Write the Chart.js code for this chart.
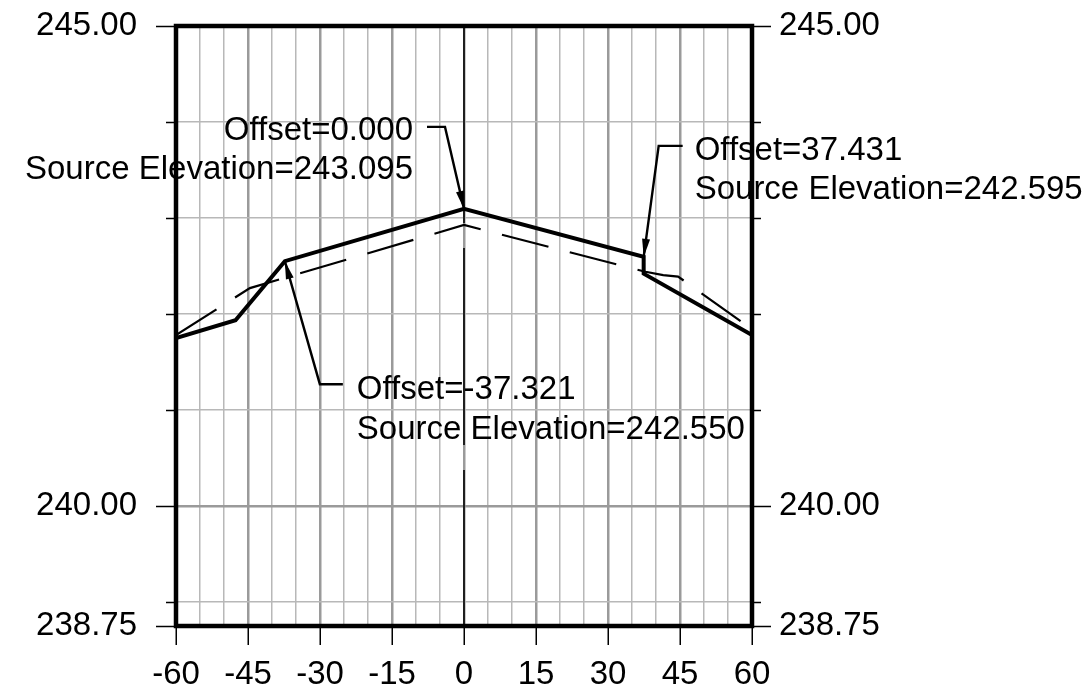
<!DOCTYPE html>
<html>
<head>
<meta charset="utf-8">
<title>Section profile</title>
<script src="https://cdn.jsdelivr.net/npm/chart.js@4.4.1/dist/chart.umd.min.js"></script>
<style>
  body { margin: 0; background: #fff; }
  canvas { display: block; }
</style>
</head>
<body>
<canvas id="profileChart" width="1091" height="697"></canvas>
<script>
// design surface (solid) - offset / elevation
const designOffsets = [-60, -47.6, -37.321, 0, 37.431, 37.431, 60];
const designElevations = [241.75, 241.935, 242.550, 243.095, 242.595, 242.42, 241.78];

// existing ground (dashed)
const groundOffsets = [-60, -44.6, 0, 37.8, 41.5, 44.6, 60];
const groundElevations = [241.78, 242.27, 242.927, 242.44, 242.405, 242.39, 241.84];

// points called out with a leader
const calloutOffsets = [0.000, 37.431, -37.321];
const calloutElevations = [243.095, 242.595, 242.550];

// axes
const xTickLabels = [-60, -45, -30, -15, 0, 15, 30, 45, 60];
const yTicks = [238.75, 239, 240, 241, 242, 243, 244, 245];
const yTickLabels = [238.75, 240, 245];
const yMajorGrid = [240];

// where each callout's leader and text sit, relative to the arrow tip (px)
const calloutLayout = [
  { elbow: [-19, -82], tail: -37, align: 'right', textX: -51, textY: -81 },
  { elbow: [15, -111], tail: 39, align: 'left', textX: 51, textY: -109 },
  { elbow: [35, 123], tail: 58, align: 'left', textX: 72, textY: 126 }
];

const FONT = '"Liberation Sans", Arial, sans-serif';
Chart.defaults.font.family = FONT;
Chart.defaults.color = '#000';

function toPoints(xs, ys) {
  return xs.map((x, i) => ({ x: x, y: ys[i] }));
}

// outside tick marks on both elevation axes, long where there is a label
const elevationTicks = {
  id: 'elevationTicks',
  afterDraw(chart) {
    const ctx = chart.ctx;
    const area = chart.chartArea;
    const y = chart.scales.y;
    ctx.save();
    ctx.strokeStyle = '#000';
    ctx.lineWidth = 1.5;
    yTicks.forEach(v => {
      const py = Math.round(y.getPixelForValue(v)) + 0.5;
      const len = yTickLabels.includes(v) ? 20 : 10;
      ctx.beginPath();
      ctx.moveTo(area.left - len, py);
      ctx.lineTo(area.left, py);
      ctx.moveTo(area.right, py);
      ctx.lineTo(area.right + len - 1, py);
      ctx.stroke();
    });
    ctx.restore();
  }
};

// heavy frame round the plot
const plotFrame = {
  id: 'plotFrame',
  afterDatasetsDraw(chart) {
    const ctx = chart.ctx;
    const a = chart.chartArea;
    ctx.save();
    ctx.strokeStyle = '#000';
    ctx.lineWidth = 4.5;
    ctx.strokeRect(a.left, a.top, a.right - a.left, a.bottom - a.top);
    ctx.restore();
  }
};

// leader lines, arrowheads and labels
const callouts = {
  id: 'callouts',
  afterDraw(chart) {
    const ctx = chart.ctx;
    const xs = chart.scales.x;
    const ys = chart.scales.y;
    ctx.save();
    ctx.strokeStyle = '#000';
    ctx.fillStyle = '#000';
    ctx.lineWidth = 2.4;
    ctx.font = '33px ' + FONT;
    calloutOffsets.forEach((off, i) => {
      const lay = calloutLayout[i];
      const tx = xs.getPixelForValue(off);
      const ty = ys.getPixelForValue(calloutElevations[i]);
      const ex = tx + lay.elbow[0];
      const ey = ty + lay.elbow[1];

      ctx.beginPath();
      ctx.moveTo(tx + lay.tail, ey);
      ctx.lineTo(ex, ey);
      ctx.lineTo(tx, ty);
      ctx.stroke();

      // arrowhead
      const ang = Math.atan2(ty - ey, tx - ex);
      const L = 18, W = 4;
      const bx = tx - L * Math.cos(ang);
      const by = ty - L * Math.sin(ang);
      ctx.beginPath();
      ctx.moveTo(tx, ty);
      ctx.lineTo(bx + W * Math.sin(ang), by - W * Math.cos(ang));
      ctx.lineTo(bx - W * Math.sin(ang), by + W * Math.cos(ang));
      ctx.closePath();
      ctx.fill();

      ctx.textAlign = lay.align;
      ctx.textBaseline = 'alphabetic';
      const lx = tx + lay.textX;
      const ly = ty + lay.textY + 12;
      ctx.fillText('Offset=' + off.toFixed(3), lx, ly);
      ctx.fillText('Source Elevation=' + calloutElevations[i].toFixed(3), lx, ly + 39.5);
    });
    ctx.restore();
  }
};

const yGrid = {
  color: c => c.tick && yMajorGrid.includes(c.tick.value) ? '#9a9a9a' : '#b8b8b8',
  lineWidth: c => c.tick && yMajorGrid.includes(c.tick.value) ? 2.5 : 1.5,
  drawTicks: false
};

function setYTicks(scale) {
  scale.ticks = yTicks.map(v => ({ value: v }));
}

function yLabel(v) {
  return yTickLabels.includes(v) ? v.toFixed(2) : '';
}

// labels may overhang the plot; don't let the layout shrink it for them
function noOverhang(scale) {
  scale.paddingTop = 0;
  scale.paddingBottom = 0;
  scale.paddingLeft = 0;
  scale.paddingRight = 0;
}

new Chart(document.getElementById('profileChart'), {
  type: 'scatter',
  data: {
    datasets: [
      {
        // centreline
        data: [{ x: 0, y: 245 }, { x: 0, y: 238.75 }],
        showLine: true,
        borderColor: '#000',
        borderWidth: 1.6,
        borderDash: [197, 25],
        pointRadius: 0
      },
      {
        data: toPoints(groundOffsets, groundElevations),
        showLine: true,
        borderColor: '#000',
        borderWidth: 2.2,
        borderDash: [48, 22],
        pointRadius: 0
      },
      {
        data: toPoints(designOffsets, designElevations),
        showLine: true,
        borderColor: '#000',
        borderWidth: 4,
        pointRadius: 0
      }
    ]
  },
  options: {
    responsive: false,
    animation: false,
    events: [],
    layout: { padding: { top: 26, left: 0, right: 0, bottom: 0 } },
    plugins: {
      legend: { display: false },
      tooltip: { enabled: false }
    },
    scales: {
      x: {
        type: 'linear',
        min: -60,
        max: 60,
        border: { display: false },
        grid: {
          color: c => c.tick && c.tick.value % 15 === 0 ? '#9a9a9a' : '#b8b8b8',
          lineWidth: c => c.tick && c.tick.value % 15 === 0 ? 2.5 : 1.5,
          tickColor: c => c.tick && xTickLabels.includes(c.tick.value) ? '#000' : 'rgba(0,0,0,0)',
          tickWidth: 1.5,
          tickLength: 19
        },
        ticks: {
          stepSize: 5,
          autoSkip: false,
          maxRotation: 0,
          padding: 10,
          font: { size: 33 },
          callback: v => xTickLabels.includes(v) ? String(v) : ''
        },
        afterFit: s => { s.height = 71; noOverhang(s); }
      },
      y: {
        type: 'linear',
        position: 'left',
        min: 238.75,
        max: 245,
        border: { display: false },
        grid: yGrid,
        afterBuildTicks: setYTicks,
        ticks: { padding: 39, font: { size: 33 }, callback: yLabel },
        afterFit: s => { s.width = 176; noOverhang(s); }
      },
      y2: {
        type: 'linear',
        position: 'right',
        min: 238.75,
        max: 245,
        border: { display: false },
        grid: { drawOnChartArea: false, drawTicks: false },
        afterBuildTicks: setYTicks,
        ticks: { padding: 27, font: { size: 33 }, callback: yLabel },
        afterFit: s => { s.width = 339; noOverhang(s); }
      }
    }
  },
  plugins: [plotFrame, elevationTicks, callouts]
});
</script>
</body>
</html>
